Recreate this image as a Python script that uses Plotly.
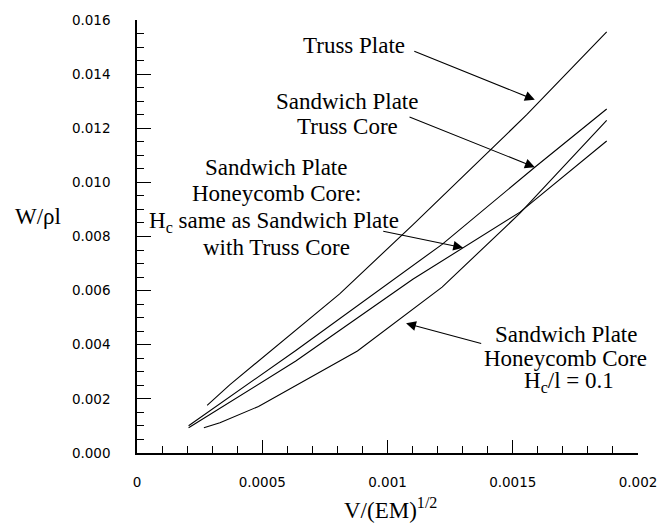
import plotly.graph_objects as go

# ---------------- data ----------------
truss_plate_x = [0.280e-3, 0.370e-3, 0.809e-3, 1.101e-3, 1.556e-3, 1.875e-3]
truss_plate_y = [1.76e-3, 2.52e-3, 5.88e-3, 8.43e-3, 12.50e-3, 15.56e-3]

sandwich_truss_x = [0.206e-3, 0.634e-3, 1.218e-3, 1.588e-3, 1.875e-3]
sandwich_truss_y = [1.005e-3, 3.79e-3, 7.71e-3, 10.56e-3, 12.71e-3]

honeycomb_same_x = [0.206e-3, 0.634e-3, 1.101e-3, 1.529e-3, 1.875e-3]
honeycomb_same_y = [0.93e-3, 3.40e-3, 6.42e-3, 8.90e-3, 11.53e-3]

honeycomb_01_x = [0.267e-3, 0.331e-3, 0.485e-3, 0.880e-3, 1.218e-3, 1.529e-3, 1.875e-3]
honeycomb_01_y = [0.93e-3, 1.12e-3, 1.72e-3, 3.77e-3, 6.13e-3, 8.86e-3, 12.29e-3]

x_tick_vals = [0, 0.0005, 0.001, 0.0015, 0.002]
x_tick_text = ["0", "0.0005", "0.001", "0.0015", "0.002"]
y_tick_vals = [0, 0.002, 0.004, 0.006, 0.008, 0.010, 0.012, 0.014, 0.016]
y_tick_text = ["0.000", "0.002", "0.004", "0.006", "0.008", "0.010", "0.012", "0.014", "0.016"]

SERIF = "Liberation Serif"
SANS = "DejaVu Sans"

fig = go.Figure()
line = dict(color="black", width=1.1)
for xs, ys, name in [
    (truss_plate_x, truss_plate_y, "Truss Plate"),
    (sandwich_truss_x, sandwich_truss_y, "Sandwich Plate Truss Core"),
    (honeycomb_same_x, honeycomb_same_y, "Sandwich Plate Honeycomb Core (same Hc)"),
    (honeycomb_01_x, honeycomb_01_y, "Sandwich Plate Honeycomb Core Hc/l=0.1"),
]:
    fig.add_trace(go.Scatter(x=xs, y=ys, mode="lines", line=line, name=name,
                             showlegend=False, hoverinfo="skip"))

annotations = []

def label(text, x, y):
    annotations.append(dict(text=text, x=x, y=y, xref="x", yref="y", showarrow=False,
                            xanchor="center", yanchor="middle",
                            font=dict(family=SERIF, size=23, color="black")))

label("Truss Plate", 0.868e-3, 15.05e-3)
label("Sandwich Plate", 0.840e-3, 12.98e-3)
label("Truss Core", 0.840e-3, 12.07e-3)
label("Sandwich Plate", 0.556e-3, 10.54e-3)
label("Honeycomb Core:", 0.556e-3, 9.59e-3)
label("H<sub>c</sub> same as Sandwich Plate", 0.548e-3, 8.55e-3)
label("with Truss Core", 0.556e-3, 7.59e-3)
label("Sandwich Plate", 1.712e-3, 4.38e-3)
label("Honeycomb Core", 1.712e-3, 3.51e-3)
label("H<sub>c</sub>/l = 0.1", 1.725e-3, 2.62e-3)

def arrow(tx, ty, sx, sy):
    annotations.append(dict(text="", x=tx, y=ty, ax=sx, ay=sy, xref="x", yref="y",
                            axref="x", ayref="y", showarrow=True, arrowhead=2,
                            arrowsize=1.8, arrowwidth=1.1, arrowcolor="black", standoff=0))

arrow(1.588e-3, 13.05e-3, 1.101e-3, 14.87e-3)
arrow(1.588e-3, 10.56e-3, 1.082e-3, 12.44e-3)
arrow(1.302e-3, 7.585e-3, 0.977e-3, 8.205e-3)
arrow(1.074e-3, 4.79e-3, 1.380e-3, 4.03e-3)

annotations.append(dict(text="W/ρl", x=-0.197, y=0.547, xref="paper", yref="paper",
                        showarrow=False, xanchor="center", yanchor="middle",
                        font=dict(family=SERIF, size=23, color="black")))
annotations.append(dict(text="V/(EM)<sup>1/2</sup>", x=0.506, y=-0.128, xref="paper", yref="paper",
                        showarrow=False, xanchor="center", yanchor="middle",
                        font=dict(family=SERIF, size=23, color="black")))

fig.update_layout(
    width=669, height=529,
    margin=dict(l=137, r=18, t=14, b=76),
    paper_bgcolor="white", plot_bgcolor="white",
    annotations=annotations,
    xaxis=dict(range=[0, 0.002], showgrid=False, zeroline=False,
               showline=True, linecolor="black", linewidth=1.5,
               ticks="inside", ticklen=13, tickwidth=1.3, tickcolor="black",
               tickvals=x_tick_vals, ticktext=x_tick_text,
               ticklabelstandoff=16, ticklabeloverflow="allow",
               tickfont=dict(family=SANS, size=13.5, color="black"),
               minor=dict(dtick=0.0001, ticks="inside", ticklen=7, tickwidth=1.3,
                          tickcolor="black", showgrid=False)),
    yaxis=dict(range=[0, 0.016], showgrid=False, zeroline=False,
               showline=True, linecolor="black", linewidth=1.5,
               ticks="inside", ticklen=14, tickwidth=1.3, tickcolor="black",
               tickvals=y_tick_vals, ticktext=y_tick_text,
               ticklabelstandoff=22, ticklabeloverflow="allow",
               tickfont=dict(family=SANS, size=13.5, color="black"),
               minor=dict(dtick=0.0005, ticks="inside", ticklen=7, tickwidth=1.3,
                          tickcolor="black", showgrid=False)),
)

fig.write_html("out.html")
